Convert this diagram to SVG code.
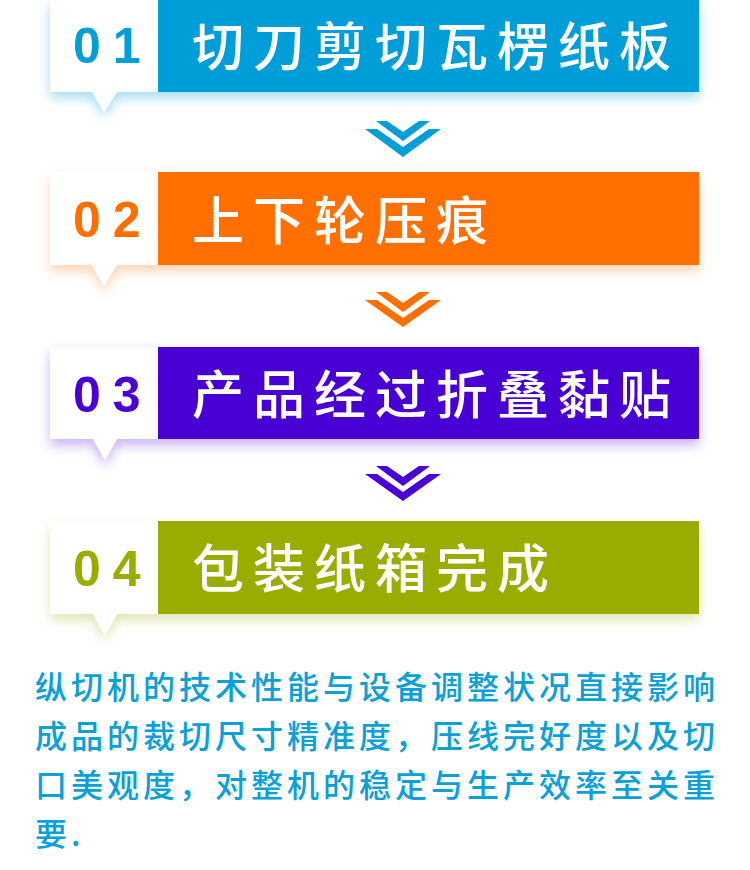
<svg xmlns="http://www.w3.org/2000/svg" width="750" height="870" viewBox="0 0 750 870">
<defs>
<filter id="shB" x="-20%" y="-30%" width="140%" height="180%"><feDropShadow dx="0" dy="6" stdDeviation="6" flood-color="#009fd9" flood-opacity="0.35"/></filter>
<filter id="shO" x="-20%" y="-30%" width="140%" height="180%"><feDropShadow dx="0" dy="6" stdDeviation="6" flood-color="#ff6f00" flood-opacity="0.3"/></filter>
<filter id="shP" x="-20%" y="-30%" width="140%" height="180%"><feDropShadow dx="0" dy="6" stdDeviation="6" flood-color="#4a00d4" flood-opacity="0.3"/></filter>
<filter id="shG" x="-20%" y="-30%" width="140%" height="180%"><feDropShadow dx="0" dy="6" stdDeviation="6" flood-color="#99ad00" flood-opacity="0.3"/></filter>
<style>
.num{font-family:"Liberation Sans",Arial,sans-serif;font-weight:bold;font-size:50px;letter-spacing:12px}
.ttl{font-family:"Noto Sans CJK SC","Noto Sans",sans-serif;font-weight:500;font-size:52px;letter-spacing:9px;fill:#ffffff}
.desc{font-family:"Noto Sans CJK SC","Noto Sans",sans-serif;font-weight:500;font-size:32px;letter-spacing:4px;fill:#0aa0d8}
</style>
</defs>
<rect width="750" height="870" fill="#ffffff"/>

<g id="step1">
<g filter="url(#shB)">
<rect x="50" y="-1" width="108" height="93" fill="#ffffff"/>
<polygon points="92,92 117,92 104,112" fill="#ffffff"/>
<rect x="158" y="-1" width="541" height="93" fill="#029ed8"/>
</g>
<text class="num" x="73" y="63" fill="#029ed8">01</text>
<text class="ttl" x="192" y="66">切刀剪切瓦楞纸板</text>
</g>

<g id="step2">
<g filter="url(#shO)">
<rect x="50" y="172" width="108" height="93" fill="#ffffff"/>
<polygon points="92,265 117,265 104,286" fill="#ffffff"/>
<rect x="158" y="172" width="541" height="93" fill="#ff6f00"/>
</g>
<text class="num" x="73" y="237" fill="#ff6f00">02</text>
<text class="ttl" x="192" y="240">上下轮压痕</text>
</g>

<g id="step3">
<g filter="url(#shP)">
<rect x="50" y="347" width="108" height="92" fill="#ffffff"/>
<polygon points="93,439 117,439 105,460" fill="#ffffff"/>
<rect x="158" y="347" width="541" height="92" fill="#4a00d4"/>
</g>
<text class="num" x="73" y="412" fill="#4a00d4">03</text>
<text class="ttl" x="192" y="414">产品经过折叠黏贴</text>
</g>

<g id="step4">
<g filter="url(#shG)">
<rect x="50" y="521" width="108" height="93" fill="#ffffff"/>
<polygon points="93,614 117,614 105,636" fill="#ffffff"/>
<rect x="158" y="521" width="541" height="93" fill="#99ad00"/>
</g>
<text class="num" x="73" y="586" fill="#99ad00">04</text>
<text class="ttl" x="192" y="588">包装纸箱完成</text>
</g>

<g id="connectors">
<g fill="#029ed8">
<polygon points="376,121 387,121 403,132 419,121 430,121 403,141"/>
<polygon points="365,129 377,129 403,147 429,129 441,129 403,157"/>
</g>
<g fill="#ff6f00">
<polygon points="376,292 387,292 403,303 419,292 430,292 403,312"/>
<polygon points="365,300 377,300 403,318 429,300 441,300 403,327"/>
</g>
<g fill="#4a00d4">
<polygon points="376,466 387,466 403,477 419,466 430,466 403,486"/>
<polygon points="365,474 377,474 403,492 429,474 441,474 403,501"/>
</g>
</g>

<g id="description">
<text class="desc" x="35" y="699">纵切机的技术性能与设备调整状况直接影响</text>
<text class="desc" x="35" y="748">成品的裁切尺寸精准度，压线完好度以及切</text>
<text class="desc" x="35" y="797">口美观度，对整机的稳定与生产效率至关重</text>
<text class="desc" x="35" y="846">要.</text>
</g>
</svg>
